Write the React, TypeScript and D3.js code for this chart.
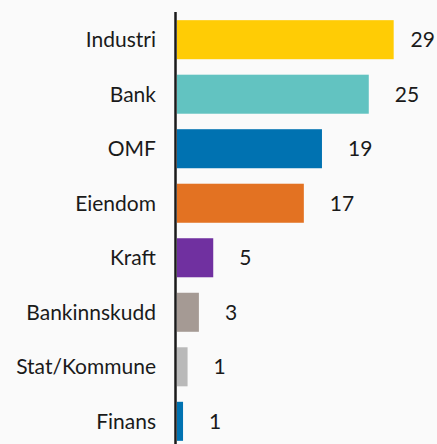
import React from "react";
import * as d3 from "d3";

const categories = ["Industri", "Bank", "OMF", "Eiendom", "Kraft", "Bankinnskudd", "Stat/Kommune", "Finans"];
const values = [28.7, 25.4, 19.2, 16.8, 4.8, 2.9, 1.4, 0.8];
const colors = ["#FFCC05", "#62C3C1", "#0072B1", "#E37222", "#7030A0", "#A59A94", "#B9B9B9", "#0072B1"];

const W = 437;
const H = 444;
const FONT = "Lato, 'Noto Sans', sans-serif";

export default function App() {
  const x = d3.scaleLinear().domain([0, 30]).range([177, 403.5]);
  const y = d3.scaleBand<string>().domain(categories).range([12, 449]).paddingInner(0.284).paddingOuter(0.15);
  const fmt = d3.format(".0f");
  return (
    <svg width={W} height={H} style={{ position: "absolute", left: 0, top: 0, background: "#FAFAFA" }}>
      <rect x={0} y={0} width={W} height={H} fill="#FAFAFA" />
      {categories.map((c, i) => {
        const y0 = y(c)!;
        const bw = y.bandwidth();
        const end = x(values[i]);
        return (
          <g key={c}>
            <rect x={x(0)} y={y0} width={end - x(0)} height={bw} fill={colors[i]} />
            <text x={156} y={y0 + bw / 2} dy="0.36em" textAnchor="end" fontFamily={FONT} fontSize={21} fill="#1a1a1a">
              {c}
            </text>
            <text x={Math.min(end + 26, 410.5)} y={y0 + bw / 2} dy="0.36em" fontFamily={FONT} fontSize={21} fill="#1a1a1a">
              {fmt(values[i])}
            </text>
          </g>
        );
      })}
      <line x1={175.5} x2={175.5} y1={12} y2={H} stroke="#1a1a1a" strokeWidth={2.5} />
    </svg>
  );
}
